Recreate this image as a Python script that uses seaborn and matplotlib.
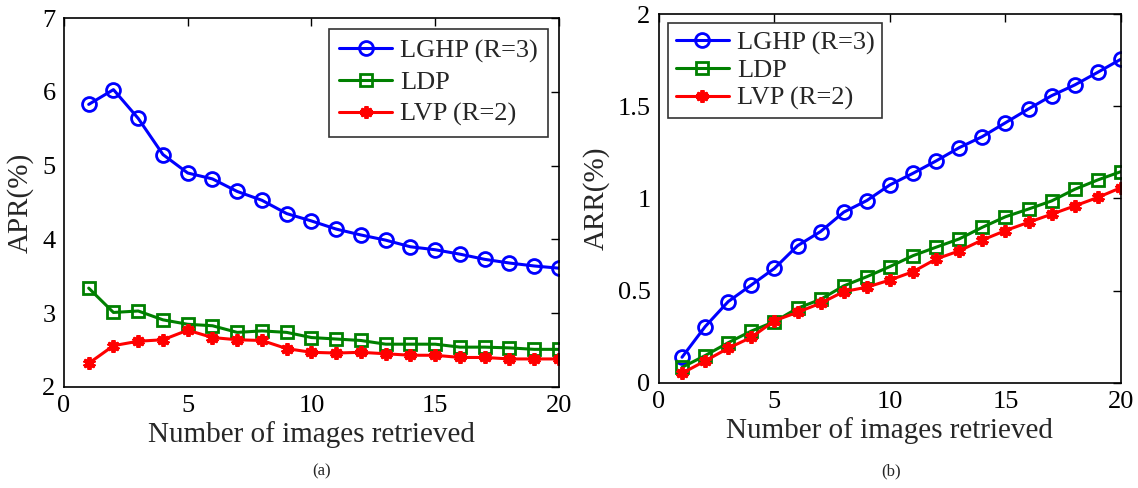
import numpy as np
import pandas as pd
import matplotlib
matplotlib.use("Agg")
import matplotlib.pyplot as plt
import seaborn as sns

x = list(range(1, 21))

apr_lghp = [5.83, 6.03, 5.64, 5.15, 4.90, 4.82, 4.65, 4.53, 4.35, 4.25,
            4.14, 4.06, 3.99, 3.90, 3.86, 3.80, 3.73, 3.68, 3.64, 3.61]
apr_ldp = [3.34, 3.01, 3.03, 2.91, 2.85, 2.83, 2.74, 2.76, 2.74, 2.67,
           2.65, 2.63, 2.58, 2.58, 2.58, 2.54, 2.54, 2.53, 2.51, 2.51]
apr_lvp = [2.32, 2.56, 2.62, 2.64, 2.77, 2.67, 2.64, 2.63, 2.52, 2.47,
           2.46, 2.47, 2.45, 2.43, 2.43, 2.40, 2.40, 2.38, 2.38, 2.38]

arr_lghp = [0.138, 0.304, 0.44, 0.53, 0.62, 0.743, 0.82, 0.925, 0.988, 1.073,
            1.136, 1.203, 1.275, 1.335, 1.41, 1.485, 1.557, 1.615, 1.684, 1.755]
arr_ldp = [0.083, 0.147, 0.217, 0.28, 0.331, 0.404, 0.452, 0.525, 0.575, 0.63,
           0.689, 0.735, 0.78, 0.843, 0.90, 0.942, 0.986, 1.049, 1.10, 1.145]
arr_lvp = [0.051, 0.118, 0.187, 0.246, 0.336, 0.382, 0.431, 0.494, 0.518, 0.557,
           0.602, 0.671, 0.715, 0.774, 0.825, 0.87, 0.914, 0.959, 1.005, 1.058]

labels = ["LGHP (R=3)", "LDP", "LVP (R=2)"]
xlabel = "Number of images retrieved"
ylabels = ["APR(%)", "ARR(%)"]
captions = ["(a)", "(b)"]

sns.set_theme(style="white")
plt.rcParams['font.family'] = ['Liberation Serif', 'DejaVu Serif']

fig = plt.figure(figsize=(11.38, 4.88), dpi=100)
ax1 = fig.add_axes([0.0562, 0.207, 0.435, 0.756])
ax2 = fig.add_axes([0.579, 0.2158, 0.406, 0.7555])

colors = ["#0000ff", "#008000", "#ff0000"]
styles = [dict(marker='o', markersize=10, markerfacecolor='none', markeredgewidth=2.0),
          dict(marker='s', markersize=9, markerfacecolor='none', markeredgewidth=2.0),
          dict(marker=(6, 2, 0), markersize=9, markeredgewidth=2.8)]

def draw(ax, series):
    for vals, lab, c, st in zip(series, labels, colors, styles):
        df = pd.DataFrame({"x": x, "y": vals})
        sns.lineplot(data=df, x="x", y="y", ax=ax, color=c, linewidth=2.2,
                     label=lab, markeredgecolor=c, **st)
    ax.set_xlim(0, 20)
    ax.set_xticks([0, 5, 10, 15, 20])
    ax.tick_params(direction='in', top=True, right=True, length=6, width=1,
                   labelsize=19, colors='black', pad=6)
    for s in ax.spines.values():
        s.set_color('black')
        s.set_linewidth(1.2)
    ax.set_xlabel(xlabel, fontsize=21, labelpad=3)

draw(ax1, [apr_lghp, apr_ldp, apr_lvp])
ax1.set_ylim(2, 7)
ax1.set_yticks([2, 3, 4, 5, 6, 7])
ax1.set_ylabel(ylabels[0], fontsize=21, labelpad=6)
leg1 = ax1.legend(loc='upper right', fontsize=19, frameon=True, fancybox=False,
                  edgecolor='black', handlelength=2.0, borderpad=0.4,
                  labelspacing=0.3, handletextpad=0.3, borderaxespad=0.4)
leg1.get_frame().set_linewidth(1.2)

draw(ax2, [arr_lghp, arr_ldp, arr_lvp])
ax2.set_ylim(0, 2)
ax2.set_yticks([0, 0.5, 1, 1.5, 2])
ax2.set_yticklabels(["0", "0.5", "1", "1.5", "2"])
ax2.set_ylabel(ylabels[1], fontsize=21, labelpad=6)
leg2 = ax2.legend(loc='upper left', fontsize=19, frameon=True, fancybox=False,
                  edgecolor='black', handlelength=2.0, borderpad=0.3,
                  labelspacing=0.15, handletextpad=0.3, borderaxespad=0.35)
leg2.get_frame().set_linewidth(1.2)

fig.text(0.2825, 0.035, captions[0], ha='center', va='center', fontsize=12)
fig.text(0.783, 0.035, captions[1], ha='center', va='center', fontsize=12)

fig.savefig("out.png", dpi=100, facecolor='white')
